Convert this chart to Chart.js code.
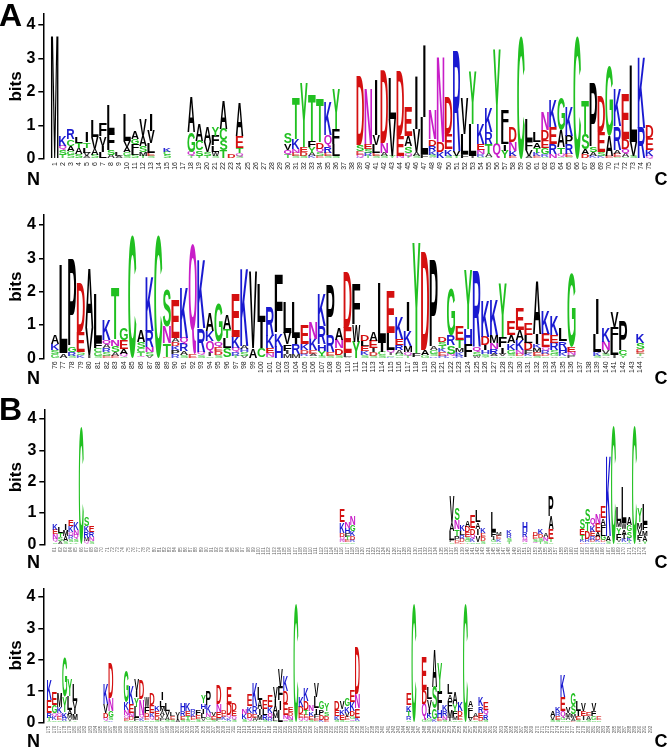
<!DOCTYPE html>
<html>
<head>
<meta charset="utf-8">
<title>Sequence logos A and B</title>
<script src="https://cdn.jsdelivr.net/npm/chart.js@4.4.0/dist/chart.umd.min.js"></script>
<style>
html, body { margin: 0; padding: 0; background: #fff; }
#wrap { position: relative; width: 669px; height: 749px; overflow: hidden; }
canvas { position: absolute; left: 0; }
</style>
</head>
<body>
<div id="wrap">
  <canvas id="a1" width="669" height="190" style="top:0px"></canvas>
  <canvas id="a2" width="669" height="200" style="top:190px"></canvas>
  <canvas id="b1" width="669" height="180" style="top:390px"></canvas>
  <canvas id="b2" width="669" height="179" style="top:570px"></canvas>
</div>
<script>
// ---- data: letters are listed bottom -> top, heights in bits ----

// panel A, row 1 (positions 1-75)
const firstA1 = 1, lastA1 = 75;
const colsA1 = [1,2,3,4,5,6,7,8,9,10,11,12,13,15,18,19,20,21,22,23,24,
  30,31,32,33,34,35,36,39,40,41,42,43,44,45,46,47,48,49,50,51,52,53,54,55,56,57,
  58,59,60,61,62,63,64,65,66,67,68,69,70,71,72,73,74,75];
const lettersA1 = ['M','TSQK','SGACR','SATL','AVLTI','SAVL','LIVF','ASFL','AL','SGAVL','SLFGA','TMSAV','SELVI','SCK',
  'TQGA','TSCA','TSVA','SWLFY','TSCA','D','SQTEA',
  'TQVS','SENKT','SDEY','KAYFT','ESQDT','SERQK','SLFY',
  'KQESD','TRSEN','SELVI','SAND','YVL','NED','TQSAE','SAVI','FLI','ASKRDN','KDN','SKED','TVR','FLV','ILY','SRNEK','SATRK','QY','YILF',
  'EKND','C','AVFL','EKTAL','SRGEDN','NREK','SQTAG','SERPK','C','DAST','KASP','KSED','EAG','SEARK','SAQDE','SVL','RK','QKED'];
const heightsA1 = [[3.7],[0.12,0.14,0.12,0.3],[0.12,0.12,0.15,0.2,0.3],[0.15,0.18,0.15,0.17],[0.08,0.1,0.15,0.17,0.3],
  [0.12,0.18,0.35,0.5],[0.2,0.2,0.28,0.4],[0.12,0.15,0.55,0.78],[0.1,0.12],[0.1,0.1,0.15,0.2,0.8],[0.12,0.15,0.18,0.15,0.22],
  [0.1,0.12,0.18,0.3,0.48],[0.08,0.1,0.3,0.36,0.5],[0.12,0.1,0.13],
  [0.08,0.12,0.6,1.05],[0.1,0.15,0.3,0.5],[0.1,0.12,0.3,0.46],[0.08,0.12,0.2,0.3,0.28],[0.25,0.3,0.35,0.85],[0.15],[0.08,0.1,0.15,0.35,1.02],
  [0.12,0.15,0.2,0.3],[0.08,0.1,0.12,0.3,1.25],[0.1,0.12,0.13,1.9],[0.08,0.1,0.17,0.2,1.4],[0.08,0.1,0.12,0.2,1.3],[0.08,0.1,0.18,0.35,1.0],[0.1,0.35,0.45,1.2],
  [0.05,0.08,0.1,0.18,2.08],[0.08,0.1,0.12,0.15,1.65],[0.08,0.1,0.25,0.3,1.67],[0.08,0.1,0.3,2.18],[0.08,1.1,1.22],[0.1,0.6,1.96],
  [0.08,0.1,0.2,0.3,0.88],[0.08,0.12,0.7,1.6],[0.15,1.1,2.18],[0.05,0.08,0.12,0.15,0.2,0.9],[0.2,0.3,2.55],[0.1,0.2,0.45,1.1],
  [0.1,0.15,2.98],[0.15,0.6,1.05],[0.1,0.95,1.55],[0.06,0.08,0.12,0.2,0.6],[0.06,0.1,0.3,0.35,0.75],[0.45,2.83],[0.25,0.2,0.4,0.6],
  [0.1,0.15,0.27,0.45],[3.67],[0.1,0.18,0.25,0.63],[0.08,0.1,0.15,0.17,0.3],[0.06,0.08,0.2,0.22,0.3,0.52],[0.15,0.3,0.5,0.8],
  [0.06,0.1,0.2,0.5,0.99],[0.05,0.1,0.3,0.25,0.9],[3.67],[0.15,0.15,0.45,1.0],[0.08,0.12,0.15,1.9],[0.08,0.12,0.6,1.05],
  [0.1,0.6,2.08],[0.06,0.1,0.12,0.7,1.14],[0.06,0.1,0.15,0.3,1.34],[0.1,0.4,2.28],[0.93,2.15],[0.1,0.18,0.35,0.37]];

// panel A, row 2 (positions 76-144)
const firstA2 = 76, lastA2 = 144;
const colsA2 = [76,77,78,79,80,81,82,83,84,85,86,87,88,89,90,91,92,93,94,95,96,97,98,99,100,
  101,102,103,104,105,106,107,108,109,110,111,112,113,114,115,116,117,118,119,120,
  121,122,123,124,125,126,127,128,129,130,131,132,133,134,135,136,139,140,141,142,144];
const lettersA2 = ['GSKA','AL','SRGP','KSED','IVA','SGCFL','ESRAQK','EASNT','SQAEG','C','QTCSA','VSNRK','C','ETNS','RPKDAE',
  'SARQK','EQ','SQRK','SIQKA','SDEQG','SLTA','TRQKE','VSHAK','AV','CIL',
  'SNEKR','HKF','MIFVL','MRIL','TRDKE','SAEKN','SYHRK','SERP','SDNA','VLED','YWF','SKELD','SDIEA','SCIL','KSIQLE','SGAREK','TQMKI','FY','GAD','RSGAP',
  'HEKTSD','HNSRG','RKMTE','FHY','WSQR','TSHIDK','SARNMK','CVIFY','TSGKAE','SDNKAE','SKFDLE','SEMKIA','SDRQEK','VGSREK','SKHRL','PNEG','SKLI','ASVNK','ILFV','YCP','ATEDSK'];
const heightsA2 = [[0.12,0.12,0.2,0.26],[0.15,2.65],[0.08,0.12,0.15,2.6],[0.1,0.1,0.6,1.45],[0.1,0.8,1.8],[0.08,0.1,0.12,0.15,1.45],
  [0.08,0.1,0.12,0.1,0.15,0.6],[0.08,0.1,0.2,0.2,1.57],[0.06,0.08,0.15,0.25,0.36],[3.7],[0.08,0.1,0.12,0.2,0.35],[0.08,0.1,0.15,0.5,1.62],
  [3.7],[0.05,0.4,0.5,1.1],[0.12,0.12,0.13,0.13,0.1,1.15],
  [0.1,0.12,0.22,0.18,1.53],[0.12,3.33],[0.1,0.1,0.7,2.05],[0.06,0.1,0.35,0.3,0.54],[0.1,0.12,0.12,0.15,1.16],[0.3,0.3,0.28,0.42],
  [0.08,0.1,0.12,0.35,1.3],[0.08,0.1,0.1,0.1,2.32],[0.3,2.32],[0.3,0.8,1.15],
  [0.05,0.1,0.15,0.38,0.87],[0.35,0.4,1.77],[0.12,0.1,0.2,0.35,0.93],[0.12,0.3,0.2,1.08],[0.06,0.08,0.1,0.2,0.56],[0.06,0.08,0.1,0.35,0.49],
  [0.08,0.15,0.2,0.55,0.97],[0.08,0.1,0.5,1.52],[0.1,0.2,0.25,0.35],[0.05,0.1,0.75,1.68],[0.5,0.5,1.2],[0.1,0.12,0.14,0.16,0.18],
  [0.08,0.1,0.12,0.22,0.28],[0.1,0.1,0.25,1.8],[0.05,0.05,0.06,0.1,0.5,1.26],[0.06,0.08,0.1,0.15,0.2,0.66],[0.08,0.1,0.18,0.45,0.89],
  [0.15,3.3],[0.1,0.15,2.95],[0.06,0.08,0.1,0.1,2.61],
  [0.08,0.1,0.1,0.1,0.12,0.15],[0.06,0.08,0.25,0.3,1.43],[0.08,0.1,0.12,0.25,0.4],[0.42,0.45,1.75],[0.08,0.1,0.15,2.25],
  [0.05,0.08,0.12,0.15,0.25,1.1],[0.06,0.08,0.15,0.18,0.23,1.05],[0.06,0.08,0.2,0.3,1.61],[0.06,0.08,0.12,0.2,0.24,0.4],
  [0.06,0.08,0.1,0.3,0.3,0.66],[0.06,0.08,0.1,0.22,0.24,0.35],[0.08,0.1,0.12,0.12,0.3,1.58],[0.06,0.08,0.1,0.1,0.4,0.71],
  [0.06,0.08,0.1,0.22,0.24,0.58],[0.06,0.1,0.15,0.2,0.37],[0.1,0.1,0.15,2.23],[0.08,0.1,0.55,1.05],[0.06,0.08,0.1,0.25,0.41],
  [0.1,0.45,0.4,0.45],[0.1,0.15,0.9],[0.06,0.06,0.07,0.08,0.2,0.28]];

// panel B, row 1
const firstB1 = 61, lastB1 = 174;
const colsB1 = [61,62,63,64,65,66,67,68,116,117,118,137,138,139,140,141,142,143,145,146,148,
  151,153,154,155,156,162,163,164,165,166,167,168,169,170,171,172,173,174];
const lettersB1 = ['SQNEK','ASTL','SAMI','TSRQKE','TSQNK','C','QMRKS','SNRE','SNQDKE','SETFHN','SRDKGN',
  'SPLAV','EDPTNS','EDRLK','TGSEDA','SKQDE','SVIAL','SDEK','SGIFL','SKEM','TSRK',
  'SNQRH','QSED','TSDK','SNA','STEAP','DKTES','KRDTS','SDREKQ','SKDAEN','RDGLFAE','SAK','C','SVFYML','SKIAWL','RTKSGA','C','TIFVMY','YAMFL'];
const heightsB1 = [[0.08,0.1,0.15,0.14,0.2],[0.1,0.12,0.14,0.2],[0.1,0.15,0.2,0.2],[0.08,0.1,0.1,0.12,0.2,0.2],[0.08,0.1,0.13,0.15,0.23],
  [3.75],[0.1,0.1,0.18,0.2,0.3],[0.1,0.12,0.16,0.2],[0.06,0.08,0.1,0.12,0.34,0.4],[0.06,0.08,0.1,0.12,0.17,0.22],[0.06,0.08,0.12,0.15,0.2,0.3],
  [0.06,0.08,0.3,0.25,0.85],[0.05,0.08,0.13,0.22,0.28,0.36],[0.08,0.1,0.12,0.14,0.2],[0.06,0.08,0.1,0.14,0.18,0.22],[0.08,0.1,0.13,0.2,0.4],
  [0.08,0.22,0.2,0.22,0.38],[0.1,0.12,0.13,0.15],[0.06,0.08,0.1,0.15,0.65],[0.08,0.08,0.1,0.11],[0.1,0.1,0.12,0.14],
  [0.06,0.08,0.1,0.14,0.34],[0.08,0.1,0.1,0.12],[0.1,0.1,0.12,0.16],[0.1,0.12,0.13],[0.06,0.1,0.32,0.4,0.64],
  [0.06,0.08,0.15,0.2,0.34],[0.08,0.1,0.25,0.3,0.37],[0.06,0.08,0.12,0.14,0.2,0.28],[0.06,0.08,0.1,0.15,0.27,0.34],
  [0.06,0.06,0.15,0.18,0.18,0.2,0.37],[0.1,0.15,2.55],[3.8],[0.06,0.08,0.2,0.2,0.22,0.46],[0.06,0.1,0.15,0.18,0.2,1.15],
  [0.05,0.06,0.1,0.2,0.22,0.25],[3.8],[0.06,0.08,0.15,0.2,0.22,0.46],[0.12,0.15,0.18,0.2,0.65]];

// panel B, row 2
const firstB2 = 175, lastB2 = 292;
const colsB2 = [175,176,177,178,179,180,186,187,190,191,192,193,194,195,196,197,198,199,200,
  201,202,203,204,205,206,207,208,209,210,211,213,214,215,216,217,218,219,220,
  221,222,223,224,225,226,227,228,229,231,232,233,234,235,245,246,248,249,250,
  251,252,253,254,255,256,257,258,259,260,273,274,275,276,277,278,279,280,281,282];
const lettersB2 = ['STREK','SKQGE','SEQKM','SRKYG','TVMALY','YMIVL','SQDVK','KSGND','SEQNKG','SDNEK','SFLYIV','SKQND','SEDFW','SQKED','SDEK','SFVAMLI','SAVL','SEL','AIV',
  'SERH','STEK','SEKR','SEF','SVLIHY','SGNKP','SEV','TPEND','SKED','SKQDE','SQED','SKN','SQDKE','SAERK','TMIAL','SRLE','SRQKE','SLMAIV','LIFV',
  'SQNEDK','SNDE','C','SQEDK','SQETDK','SEKN','SEFILV','KDPG','EDSY','SKED','SEKV','SEVKG','SQGDKE','SKEND','SRTKE','C','GQDE','SGKIVL','KGSA',
  'SEHFY','SNRK','SIMFAL','SMFYA','SEDK','C','SVLFA','SEA','SDERK','SRQE','SVA','SERK','SGQEK','SAMV','EAMSG','SEIL','SIEV','SAE','SGFV','SE'];
const heightsB2 = [[0.06,0.1,0.15,0.4,0.66],[0.08,0.1,0.12,0.25,0.4],[0.08,0.1,0.12,0.2,0.45],[0.06,0.1,0.18,0.5,1.26],[0.06,0.08,0.12,0.15,0.45,0.51],
  [0.08,0.2,0.15,0.25,0.52],[0.06,0.1,0.15,0.3,0.64],[0.08,0.1,0.2,0.4,1.08],[0.06,0.08,0.1,0.15,0.25,1.0],[0.08,0.1,0.12,0.3,0.56],
  [0.06,0.1,0.35,0.3,0.2,0.36],[0.06,0.08,0.12,0.5,0.61],[0.08,0.1,0.12,0.2,0.33],[0.08,0.1,0.12,0.25,0.35],[0.1,0.12,0.14,0.18],
  [0.06,0.08,0.1,0.12,0.15,0.2,0.24],[0.1,0.12,0.15,0.24],[0.1,0.1,0.12],[0.1,0.12,0.13],
  [0.1,0.12,0.15,0.26],[0.1,0.12,0.14,0.24],[0.08,0.1,0.12,0.12],[0.12,0.13,0.15],[0.06,0.08,0.15,0.15,0.18,0.23],[0.08,0.1,0.12,0.25,0.45],
  [0.1,0.12,0.13],[0.06,0.08,0.2,0.25,0.61],[0.08,0.1,0.1,0.12],[0.06,0.08,0.12,0.35,0.53],[0.1,0.12,0.15,0.24],[0.12,0.15,0.18],
  [0.06,0.1,0.15,0.22,0.35],[0.06,0.1,0.12,0.25,0.72],[0.08,0.15,0.2,0.3,0.41],[0.1,0.15,0.2,0.27],[0.06,0.1,0.14,0.2,0.35],
  [0.06,0.1,0.15,0.25,0.2,0.38],[0.4,0.3,0.45,0.57],
  [0.05,0.06,0.12,0.38,0.4,0.5],[0.1,0.12,0.12,0.16],[3.8],[0.06,0.1,0.12,0.22,0.33],[0.06,0.08,0.1,0.16,0.3,0.4],[0.1,0.12,0.14,0.2],
  [0.06,0.08,0.12,0.2,0.35,0.44],[0.1,0.15,0.17,0.25],[0.1,0.12,0.14,0.22],[0.1,0.12,0.18,0.3],[0.1,0.15,0.17,0.25],[0.08,0.1,0.14,0.2,0.25],
  [0.05,0.06,0.1,0.16,0.28,0.35],[0.06,0.1,0.3,0.45,1.52],[0.08,0.12,0.15,0.2,0.38],[3.8],[0.1,0.5,0.45,1.05],[0.06,0.08,0.15,0.15,0.3,0.35],
  [0.1,0.35,0.7,1.18],
  [0.06,0.1,0.23,0.6,0.95],[0.1,0.12,0.15,0.22],[0.05,0.1,0.25,0.3,0.22,0.33],[0.08,0.12,0.15,0.25,0.35],[0.08,0.12,0.17,0.3],[3.8],
  [0.06,0.1,0.16,0.18,0.22],[0.08,0.1,0.12],[0.06,0.1,0.16,0.2,0.28],[0.1,0.15,0.16,0.22],[0.1,0.12,0.18],[0.1,0.12,0.12,0.16],
  [0.08,0.1,0.2,0.45,0.68],[0.08,0.1,0.12,0.2],[0.06,0.08,0.12,0.3,0.37],[0.1,0.12,0.15,0.32],[0.08,0.12,0.16,0.22],[0.1,0.12,0.13],
  [0.08,0.12,0.16,0.22],[0.08,0.1]];

// ---- look ----
const FONT = '"Liberation Sans", Arial, Helvetica, sans-serif';
Chart.defaults.font.family = FONT;
const GLYPH_FONT = 'bold 100px ' + FONT;

const letterColours = {};
'GSTYC'.split('').forEach(c => letterColours[c] = '#21c021');
'NQ'.split('').forEach(c => letterColours[c] = '#c81ec8');
'KRH'.split('').forEach(c => letterColours[c] = '#1a1ad0');
'DE'.split('').forEach(c => letterColours[c] = '#d41010');

const glyphCache = {};
function glyph(ctx, ch) {
  if (!glyphCache[ch]) {
    ctx.save();
    ctx.font = GLYPH_FONT;
    const m = ctx.measureText(ch);
    ctx.restore();
    glyphCache[ch] = {
      l: m.actualBoundingBoxLeft,
      a: m.actualBoundingBoxAscent,
      w: m.actualBoundingBoxLeft + m.actualBoundingBoxRight,
      h: m.actualBoundingBoxAscent + m.actualBoundingBoxDescent
    };
  }
  return glyphCache[ch];
}

// stretch one letter into the box of a stacked bar
function drawLetter(ctx, ch, cx, top, w, h) {
  const g = glyph(ctx, ch);
  if (ch === 'I') w *= 0.32;
  ctx.save();
  // very short letters come out pale in the original print
  ctx.globalAlpha = Math.min(1, 0.3 + h / 7);
  ctx.translate(cx - w / 2, top);
  ctx.scale(w / g.w, h / g.h);
  ctx.font = GLYPH_FONT;
  ctx.textAlign = 'left';
  ctx.textBaseline = 'alphabetic';
  ctx.fillStyle = letterColours[ch] || '#000';
  ctx.fillText(ch, g.l, g.a);
  ctx.restore();
}

const logoPlugin = {
  id: 'logo',
  afterDatasetsDraw(chart) {
    const ctx = chart.ctx;
    chart.data.datasets.forEach((ds, k) => {
      chart.getDatasetMeta(k).data.forEach((bar, j) => {
        const ch = ds.letterRow[j];
        if (!ch) return;
        const p = bar.getProps(['x', 'y', 'base', 'width'], true);
        const h = Math.abs(p.base - p.y);
        if (h < 0.3) return;
        drawLetter(ctx, ch, p.x, Math.min(p.y, p.base), p.width, h);
      });
    });
  },
  afterDraw(chart, args, opts) {
    const ctx = chart.ctx, a = chart.chartArea;
    ctx.save();
    ctx.fillStyle = '#000';
    ctx.font = 'bold 17px ' + FONT;
    ctx.textAlign = 'center';
    ctx.textBaseline = 'middle';
    ctx.save();
    ctx.translate(16.5, (a.top + a.bottom) / 2);
    ctx.rotate(-Math.PI / 2);
    ctx.fillText('bits', 0, 0);
    ctx.restore();
    ctx.font = 'bold 18px ' + FONT;
    ctx.textBaseline = 'alphabetic';
    ctx.fillText('N', 33.5, a.bottom + opts.endGap);
    ctx.fillText('C', 661, a.bottom + opts.endGap);
    if (opts.tag) {
      ctx.font = 'bold 32px ' + FONT;
      ctx.textAlign = 'left';
      ctx.fillText(opts.tag, -1, opts.tagY);
    }
    ctx.restore();
  }
};

function makeLogo(p) {
  const maxLayers = Math.max(...p.letters.map(s => s.length));
  const datasets = [];
  for (let k = 0; k < maxLayers; k++) {
    datasets.push({
      data: p.cols.map((c, j) => ({ x: c, y: p.heights[j][k] || 0 })),
      letterRow: p.cols.map((c, j) => p.letters[j][k] || ''),
      backgroundColor: 'rgba(0,0,0,0)',
      borderWidth: 0,
      barPercentage: 0.94,
      categoryPercentage: 1
    });
  }
  // x range so that first/last positions land under the reference columns
  const step = (p.c1 - p.c0) / (p.last - p.first);
  const xMin = p.first - (p.c0 - p.axisX) / step;
  const xMax = p.last + (666 - p.c1) / step;
  const canvas = document.getElementById(p.id);
  const bottomSpace = canvas.height - (p.zeroY - p.top);

  new Chart(canvas, {
    type: 'bar',
    data: { datasets },
    plugins: [logoPlugin],
    options: {
      responsive: false,
      animation: false,
      layout: { padding: { left: 0, right: 3, top: p.areaTop - p.top, bottom: 0 } },
      plugins: {
        legend: { display: false },
        tooltip: { enabled: false },
        logo: { tag: p.tag, tagY: p.tagY, endGap: p.endGap }
      },
      scales: {
        x: {
          type: 'linear', stacked: true, min: xMin, max: xMax,
          grid: { display: false, drawTicks: false },
          border: { display: false },
          ticks: {
            stepSize: 1, autoSkip: false, includeBounds: false, maxTicksLimit: 1000,
            maxRotation: 90, minRotation: 90, padding: 3,
            font: { size: p.tickFont }, color: p.tickColour,
            callback: v => (Number.isInteger(v) && v >= p.first && v <= p.last) ? String(v) : ''
          },
          afterFit(s) { s.height = bottomSpace; }
        },
        y: {
          stacked: true, min: 0, max: p.yMax,
          ticks: {
            stepSize: 1, includeBounds: false, padding: 3,
            font: { size: 16, weight: 'bold' }, color: '#000'
          },
          grid: { drawOnChartArea: false, drawTicks: true, tickLength: 5, color: '#000', lineWidth: 1.5 },
          border: { display: true, color: '#000', width: 1.5 },
          afterFit(s) { s.width = p.axisX; }
        }
      }
    }
  });
}

makeLogo({ id: 'a1', top: 0, cols: colsA1, letters: lettersA1, heights: heightsA1, first: firstA1, last: lastA1,
  axisX: 43.3, c0: 50.7, c1: 655, areaTop: 14, zeroY: 159, yMax: 4.33,
  tickFont: 7, tickColour: '#222', tag: 'A', tagY: 26, endGap: 26 });
makeLogo({ id: 'a2', top: 190, cols: colsA2, letters: lettersA2, heights: heightsA2, first: firstA2, last: lastA2,
  axisX: 44, c0: 50.7, c1: 648, areaTop: 215, zeroY: 358.3, yMax: 4.3,
  tickFont: 7, tickColour: '#222', endGap: 26 });
makeLogo({ id: 'b1', top: 390, cols: colsB1, letters: lettersB1, heights: heightsB1, first: firstB1, last: lastB1,
  axisX: 44.3, c0: 52.7, c1: 650, areaTop: 410, zeroY: 544.3, yMax: 4.29,
  tickFont: 4.5, tickColour: '#666', tag: 'B', tagY: 30, endGap: 24 });
makeLogo({ id: 'b2', top: 570, cols: colsB2, letters: lettersB2, heights: heightsB2, first: firstB2, last: lastB2,
  axisX: 43.3, c0: 46.7, c1: 653, areaTop: 588.3, zeroY: 722.7, yMax: 4.27,
  tickFont: 4.5, tickColour: '#666', endGap: 24 });
</script>
</body>
</html>
